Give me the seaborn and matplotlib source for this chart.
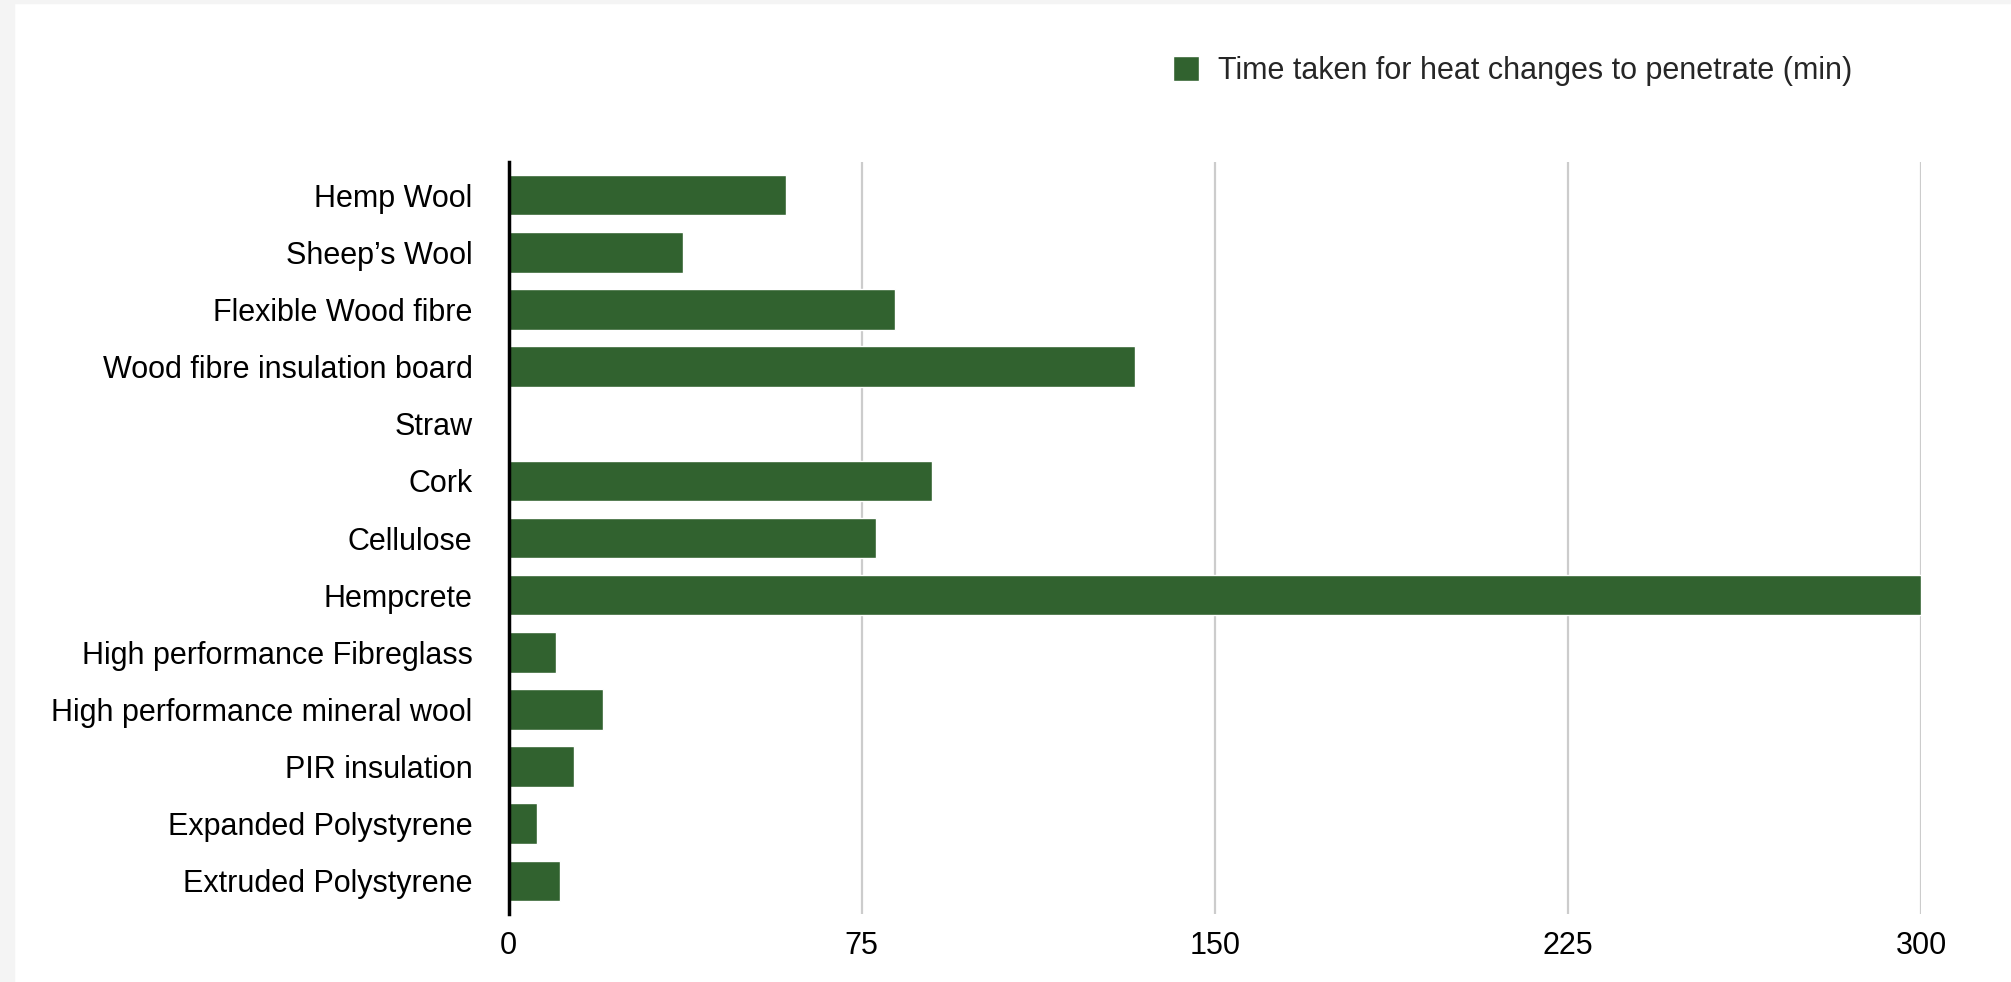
import numpy as np
import pandas as pd
import seaborn as sns
import matplotlib.pyplot as plt
from matplotlib.patches import Rectangle

# Datos
materials = [
    "Hemp Wool", "Sheep’s Wool", "Flexible Wood fibre", "Wood fibre insulation board",
    "Straw", "Cork", "Cellulose", "Hempcrete", "High performance Fibreglass",
    "High performance mineral wool", "PIR insulation", "Expanded Polystyrene",
    "Extruded Polystyrene",
]
minutes = [59, 37, 82, 133, 0, 90, 78, 300, 10, 20, 14, 6, 11]
series_name = "Time taken for heat changes to penetrate (min)"
x_ticks = [0, 75, 150, 225, 300]

bar_color = "#31622f"
fs = 22

df = pd.DataFrame({"material": materials, "minutes": minutes, "series": series_name})

sns.set_theme(style="white")
plt.rcParams["font.family"] = ["Liberation Sans", "DejaVu Sans"]

fig = plt.figure(figsize=(20.11, 9.82), dpi=100)
fig.patch.set_facecolor("white")
# marco gris claro de la captura
fig.patches.append(Rectangle((0, 0), 14 / 2011, 1, transform=fig.transFigure,
                             color="#f4f4f4", zorder=-1))
fig.patches.append(Rectangle((0, 1 - 3 / 982), 1, 3 / 982, transform=fig.transFigure,
                             color="#f4f4f4", zorder=-1))

ax = fig.add_axes([508.5 / 2011, 1 - 914 / 982, (1921 - 508.5) / 2011, (914 - 162) / 982])

sns.barplot(data=df, x="minutes", y="material", hue="series", palette=[bar_color],
            orient="h", width=0.71, ax=ax, legend=True, saturation=1)

ax.set_xlim(0, 300)
ax.set_ylim(12.58, -0.58)
ax.set_xticks(x_ticks)
ax.set_xticklabels([str(t) for t in x_ticks])
ax.set_xlabel("")
ax.set_ylabel("")
ax.tick_params(axis="both", length=0, labelsize=fs, colors="black")
ax.tick_params(axis="x", pad=12)
ax.tick_params(axis="y", pad=26)

ax.grid(axis="x", color="#cccccc", linewidth=1.6)
ax.set_axisbelow(True)
for side in ["top", "right", "bottom"]:
    ax.spines[side].set_visible(False)
ax.spines["left"].set_color("black")
ax.spines["left"].set_linewidth(2.5)
ax.spines["left"].set_zorder(5)

handles, labels = ax.get_legend_handles_labels()
ax.get_legend().remove()
fig.legend(handles, labels, loc="center left", bbox_to_anchor=(1173 / 2011, 1 - 71 / 982),
           frameon=False, fontsize=fs, handlelength=0.85, handleheight=0.85,
           handletextpad=0.62, borderpad=0, borderaxespad=0)

fig.savefig("out.png", dpi=100, facecolor="white")
